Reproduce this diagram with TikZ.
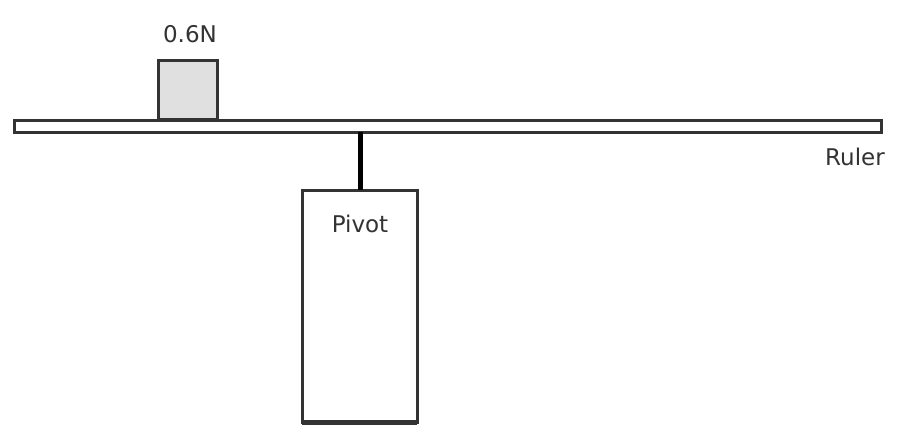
\documentclass[tikz,border=0pt]{standalone}
\usepackage{fontspec}
\setmainfont{DejaVu Sans}
\begin{document}
\begin{tikzpicture}[x=1pt,y=-1pt,
  outline/.style={draw=black!80,line width=3pt},
  lbl/.style={font=\fontsize{23}{26}\selectfont,text=black!80,inner sep=0pt}]
\useasboundingbox (0,0) rectangle (897,432);
\fill[white] (0,0) rectangle (897,432);
% ruler
\draw[outline,fill=white] (14,120) rectangle (881,132);
\coordinate (rtop) at (360,132);
% weight
\draw[outline,fill=black!12] (158,60) rectangle (217,119);
\node[lbl] (w) at (190,34) {0.6N};
% pivot
\draw[outline,fill=white] (302,190) rectangle (417,422);
\draw[draw=black!80,line width=5pt] (302,422) -- (417,422);
\coordinate (ptop) at (360,190);
\draw[black,line width=5pt] (rtop) -- (ptop);
\node[lbl] (p) at (360,224) {Pivot};
\node[lbl] (r) at (855,157) {Ruler};
\end{tikzpicture}
\end{document}
